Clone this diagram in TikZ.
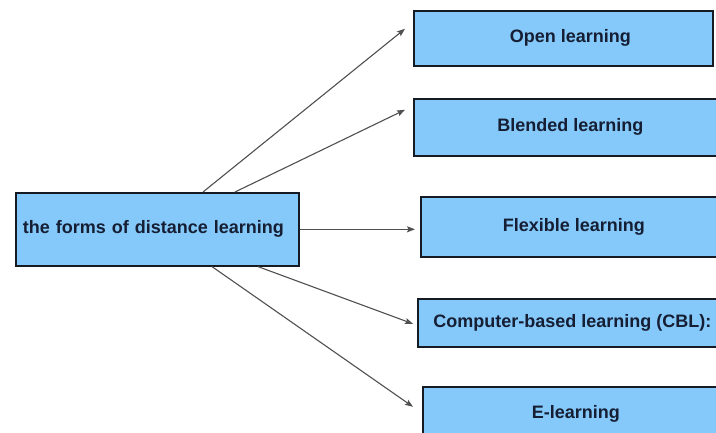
\documentclass[tikz,border=0pt]{standalone}
\usepackage{fontspec}
\setmainfont{Liberation Sans}
\usetikzlibrary{arrows.meta,calc}
\definecolor{boxfill}{RGB}{132,201,250}
\definecolor{boxline}{RGB}{22,26,34}
\definecolor{boxtext}{RGB}{22,30,52}
\definecolor{linkgray}{RGB}{80,80,80}
\tikzset{
  formbox/.style={draw=boxline, line width=1.6pt, fill=boxfill, text=boxtext,
    font=\fontsize{18}{20}\selectfont\bfseries, anchor=north west,
    inner sep=0pt, align=center},
  link/.style={draw=linkgray, line width=1.1pt,
    -{Stealth[length=8pt,width=6pt,inset=1.5pt]}}
}
\begin{document}
\begin{tikzpicture}[x=1pt,y=-1pt]
  \clip (0,0) rectangle (716,432);
  \fill[white] (0,0) rectangle (716,432);

  % central topic
  \node[formbox, minimum width=283pt, minimum height=73pt, text width=269pt, align=left]
    (main) at (15,192) {the forms of distance learning};

  % the five forms
  \node[formbox, minimum width=299pt, minimum height=55pt] (open) at (413,10)
    {\hspace*{14pt}Open learning};
  \node[formbox, minimum width=313pt, minimum height=57pt] (blend) at (413,98)
    {Blended learning};
  \node[formbox, minimum width=306pt, minimum height=60pt] (flex) at (420,196)
    {Flexible learning};
  \node[formbox, minimum width=309pt, minimum height=48pt] (cbl) at (417,298)
    {Computer-based learning (CBL):};
  \node[formbox, minimum width=306pt, minimum height=54pt] (elearn) at (422,386)
    {E-learning};

  % connectors
  \draw[link] ($(main.north west)+(188,0)$) -- ($(open.west)+(-8,-9.5)$);
  \draw[link] ($(main.north west)+(220,0)$) -- ($(blend.west)+(-8,-17.5)$);
  \draw[link] (main.east) -- ($(main.east -| flex.west)+(-5,0)$);
  \draw[link] ($(main.south west)+(243,0)$) -- ($(cbl.west)+(-4,1)$);
  \draw[link] ($(main.south west)+(197,0)$) -- ($(elearn.west)+(-9,-7)$);
\end{tikzpicture}
\end{document}
